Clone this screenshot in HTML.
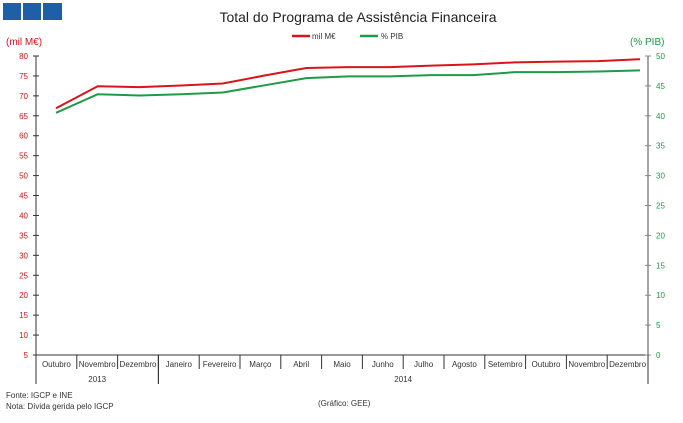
<!DOCTYPE html>
<html><head><meta charset="utf-8"><style>
body{margin:0;background:#fff;width:683px;height:418px;overflow:hidden;font-family:"Liberation Sans",sans-serif}
svg text{font-family:"Liberation Sans",sans-serif}
</style></head><body>
<svg id="c" width="683" height="418">
<rect x="3" y="3" width="18" height="17" fill="#1f5fa8"/>
<rect x="23" y="3" width="18" height="17" fill="#1f5fa8"/>
<rect x="43" y="3" width="19" height="17" fill="#1f5fa8"/>
<text x="358" y="22" font-size="14" text-anchor="middle" fill="#222">Total do Programa de Assistência Financeira</text>
<g>
<line x1="292" y1="36" x2="310" y2="36" stroke="#d9141c" stroke-width="2.5"/>
<text x="312" y="39" font-size="8" fill="#333">mil M€</text>
<line x1="360" y1="36" x2="378" y2="36" stroke="#1e9a48" stroke-width="2.5"/>
<text x="381" y="39" font-size="8" fill="#333">% PIB</text>
</g>
<text x="6" y="45" font-size="10" fill="#d9141c">(mil M€)</text>
<text x="630" y="45" font-size="10" fill="#1e9a48">(% PIB)</text>
<text x="6" y="398" font-size="8" fill="#333">Fonte: IGCP e INE</text>
<text x="6" y="409" font-size="8" fill="#333">Nota: Dívida gerida pelo IGCP</text>
<text x="318" y="406" font-size="8" fill="#333">(Gráfico: GEE)</text>
</svg>
<script>
const months=["Outubro","Novembro","Dezembro","Janeiro","Fevereiro","Março","Abril","Maio","Junho","Julho","Agosto","Setembro","Outubro","Novembro","Dezembro"];
const milME=[66.9,72.4,72.2,72.6,73.1,75.1,77.0,77.2,77.2,77.6,77.9,78.4,78.6,78.7,79.2];
const pib=[40.5,43.6,43.4,43.6,43.9,45.1,46.3,46.6,46.6,46.8,46.8,47.3,47.3,47.4,47.6];
const leftTicks=[5,10,15,20,25,30,35,40,45,50,55,60,65,70,75,80];
const rightTicks=[0,5,10,15,20,25,30,35,40,45,50];
const years=[{label:"2013",from:0,to:3},{label:"2014",from:3,to:15}];

const svg=document.getElementById('c');const NS="http://www.w3.org/2000/svg";
const X0=36,X1=648,Y0=355,Y1=56;
const yL=v=>Y0-(v-5)/75*(Y0-Y1);
const yR=v=>Y0-v/50*(Y0-Y1);
const bw=(X1-X0)/months.length;
const xB=i=>X0+i*bw;
const xP=i=>56+i*(640-56)/(months.length-1);
function mk(t,a,txt){const e=document.createElementNS(NS,t);for(const k in a)e.setAttribute(k,a[k]);if(txt!=null)e.textContent=txt;svg.appendChild(e);return e;}
let e;
e=mk('line',{x1:X0,y1:Y1,x2:X0,y2:Y0,stroke:'#333','stroke-width':1});


e=mk('line',{x1:X1,y1:Y1,x2:X1,y2:Y0,stroke:'#888','stroke-width':1.5});


e=mk('line',{x1:X0,y1:Y0,x2:X1,y2:Y0,stroke:'#333','stroke-width':1});


leftTicks.forEach(v=>{
 mk('line',{x1:X0-3,y1:yL(v),x2:X0+3,y2:yL(v),stroke:'#333'});
 e=mk('text',{x:X0-8,y:yL(v)+3,'font-size':8,fill:'#d9141c','text-anchor':'end'},v);
 
 
});
rightTicks.forEach(v=>{
 mk('line',{x1:X1-3,y1:yR(v),x2:X1+3,y2:yR(v),stroke:'#888'});
 e=mk('text',{x:X1+8,y:yR(v)+3,'font-size':8,fill:'#1e9a48'},v);
 
 
});
months.forEach((m,i)=>{
 mk('line',{x1:xB(i),y1:Y0,x2:xB(i),y2:Y0+14,stroke:'#333'});
 e=mk('text',{x:xB(i)+bw/2,y:Y0+12,'font-size':8,fill:'#333','text-anchor':'middle'},m);
 
 
});
years.forEach(y=>{
 mk('line',{x1:xB(y.from),y1:Y0,x2:xB(y.from),y2:Y0+29,stroke:'#333'});
 mk('line',{x1:xB(y.to),y1:Y0,x2:xB(y.to),y2:Y0+29,stroke:'#333'});
 e=mk('text',{x:(xB(y.from)+xB(y.to))/2,y:Y0+27,'font-size':8,fill:'#333','text-anchor':'middle'},y.label);
 
 
});
e=mk('polyline',{points:pib.map((v,i)=>xP(i)+','+yR(v)).join(' '),fill:'none',stroke:'#1e9a48','stroke-width':2});


e=mk('polyline',{points:milME.map((v,i)=>xP(i)+','+yL(v)).join(' '),fill:'none',stroke:'#d9141c','stroke-width':2});


</script>
</body></html>
